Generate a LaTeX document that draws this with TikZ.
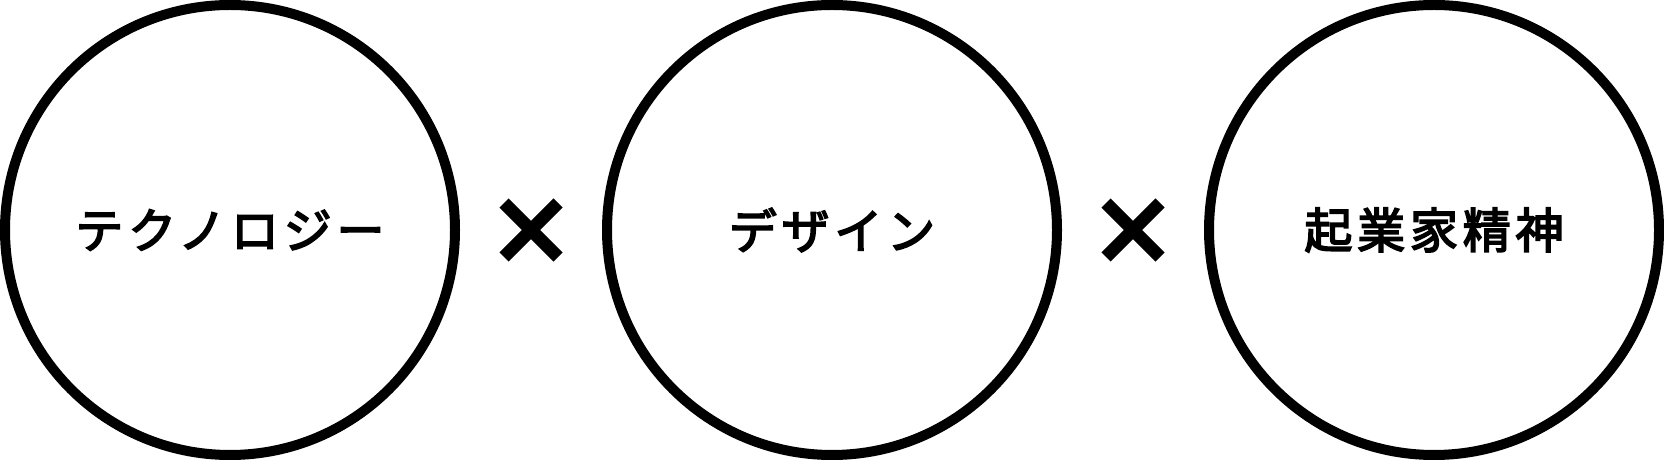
\documentclass[tikz,border=0pt]{standalone}
\usepackage{fontspec}
\usepackage{tikz}
\usetikzlibrary{positioning,shapes.misc}
\newfontfamily\jpfont{Noto Sans CJK JP}[LetterSpace=10,FakeBold=3.5]

\begin{document}
\begin{tikzpicture}[
    circlenode/.style={circle, draw=black, line width=10pt, minimum size=450pt, inner sep=0pt, font=\jpfont\fontsize{48}{58}\selectfont},
    crossnode/.style={cross out, draw=black, line width=13pt, minimum size=41pt},
    node distance=44pt
]
\useasboundingbox (0,0) rectangle (1664pt,460pt);
\node[circlenode](tech) at (230pt,230pt){テクノロジー};
\node[crossnode](times)[right=of tech]{};
\node[circlenode](design)[right=of times]{デザイン};
\node[crossnode](times2)[right=of design]{};
\node[circlenode](spirit)[right=of times2]{起業家精神};
\end{tikzpicture}
\end{document}
